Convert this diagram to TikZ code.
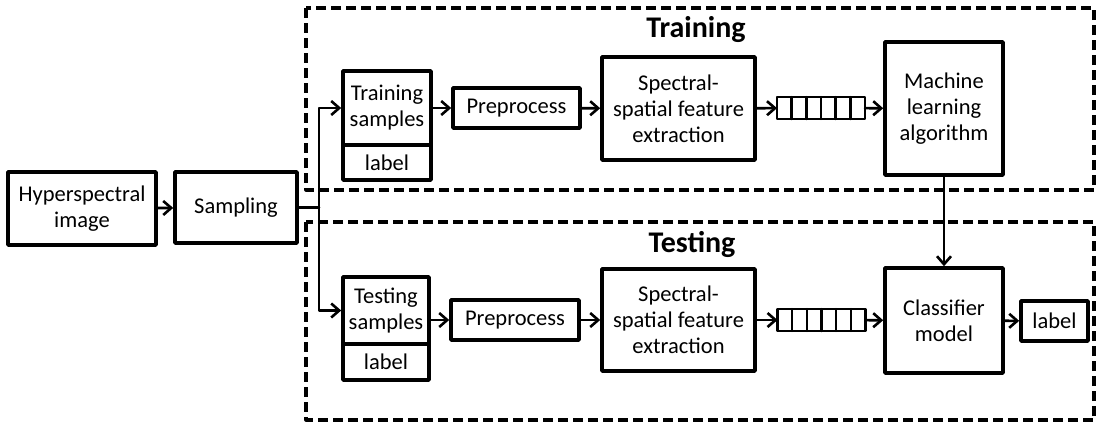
\documentclass[tikz,border=0pt]{standalone}
\usepackage{fontspec}
\setmainfont{Carlito}
\usetikzlibrary{arrows.meta}
\usetikzlibrary{calc}

\begin{document}
\begin{tikzpicture}[x=1pt,y=-1pt,line cap=round,line join=round,>={Straight Barb[length=8pt,width=14pt]},
    box/.style={draw,line width=3.6pt,line cap=butt,inner sep=0pt,align=center,font=\fontsize{22.5}{26}\selectfont},
    vec/.style={draw,line width=2.4pt,inner sep=0pt,outer sep=0pt,minimum width=88,minimum height=22},
    group/.style={draw,line width=3.2pt,line cap=butt,dash pattern=on 10pt off 5pt},
    title/.style={anchor=base,font=\fontsize{30}{34}\selectfont\bfseries},
    link/.style={->,line width=2.6pt}]
        \useasboundingbox (0,0) rectangle (1096,424);
        % dashed frames
        \draw[group] (306,8) rectangle (1094,190);
        \draw[group] (306,222) rectangle (1094,420);
        \node[title] (trtitle) at (696,37) {Training};
        \node[title] (tetitle) at (692,252) {Testing};
        % left part
        \node[box,minimum width=148,minimum height=73] (hsi) at (82,208.5) {Hyperspectral\\image};
        \node[box,minimum width=122,minimum height=71] (samp) at (236,207.5) {Sampling};
        \coordinate (split) at (319,207.5);
        % training row
        \node[box,minimum width=88,minimum height=74] (trsamp) at (387,108) {Training\\samples};
        \node[box,minimum width=88,minimum height=35] (trlab) at (387,162.5) {label};
        \node[box,minimum width=127,minimum height=40] (trpre) at (516.5,108) {Preprocess};
        \node[box,minimum width=153,minimum height=103] (trfeat) at (678.5,108.5) {Spectral-\\spatial feature\\extraction};
        \node[vec] (trvec) at (821,108) {};
        \node[box,minimum width=118,minimum height=133] (ml) at (944,108.5) {Machine\\learning\\algorithm};
        % testing row
        \node[box,minimum width=86,minimum height=67] (tesamp) at (386,310.5) {Testing\\samples};
        \node[box,minimum width=86,minimum height=36] (telab) at (386,362) {label};
        \node[box,minimum width=128,minimum height=40] (tepre) at (515,320) {Preprocess};
        \node[box,minimum width=153,minimum height=102] (tefeat) at (678.5,320) {Spectral-\\spatial feature\\extraction};
        \node[vec] (tevec) at (821.5,320) {};
        \node[box,minimum width=118,minimum height=105] (clf) at (944,320.5) {Classifier\\model};
        \node[box,minimum width=67,minimum height=40] (outlab) at (1054.5,321) {label};
        % cells of the feature vectors
        \foreach \v in {trvec,tevec}
            \foreach \i in {1,...,5}
                \draw[line width=2.4pt] ($(\v.north west)!\i/6!(\v.north east)$) -- ($(\v.south west)!\i/6!(\v.south east)$);
        % connectors
        \draw[link] (hsi) -- (samp);
        \draw[line width=2.6pt] (samp.east) -- (split);
        \draw[link] (split) |- (trsamp.west);
        \draw[link] (split) |- (tesamp.west);
        \draw[link] (trsamp.east) -- (trpre);
        \draw[link] (trpre) -- (trfeat);
        \draw[link] (trfeat) -- (trvec);
        \draw[link] (trvec) -- (ml);
        \draw[link] (ml) -- (clf);
        \draw[link] (tesamp.east |- tepre) -- (tepre);
        \draw[link] (tepre) -- (tefeat);
        \draw[link] (tefeat) -- (tevec);
        \draw[link] (tevec) -- (clf);
        \draw[link] (clf) -- (outlab);
\end{tikzpicture}
\end{document}
